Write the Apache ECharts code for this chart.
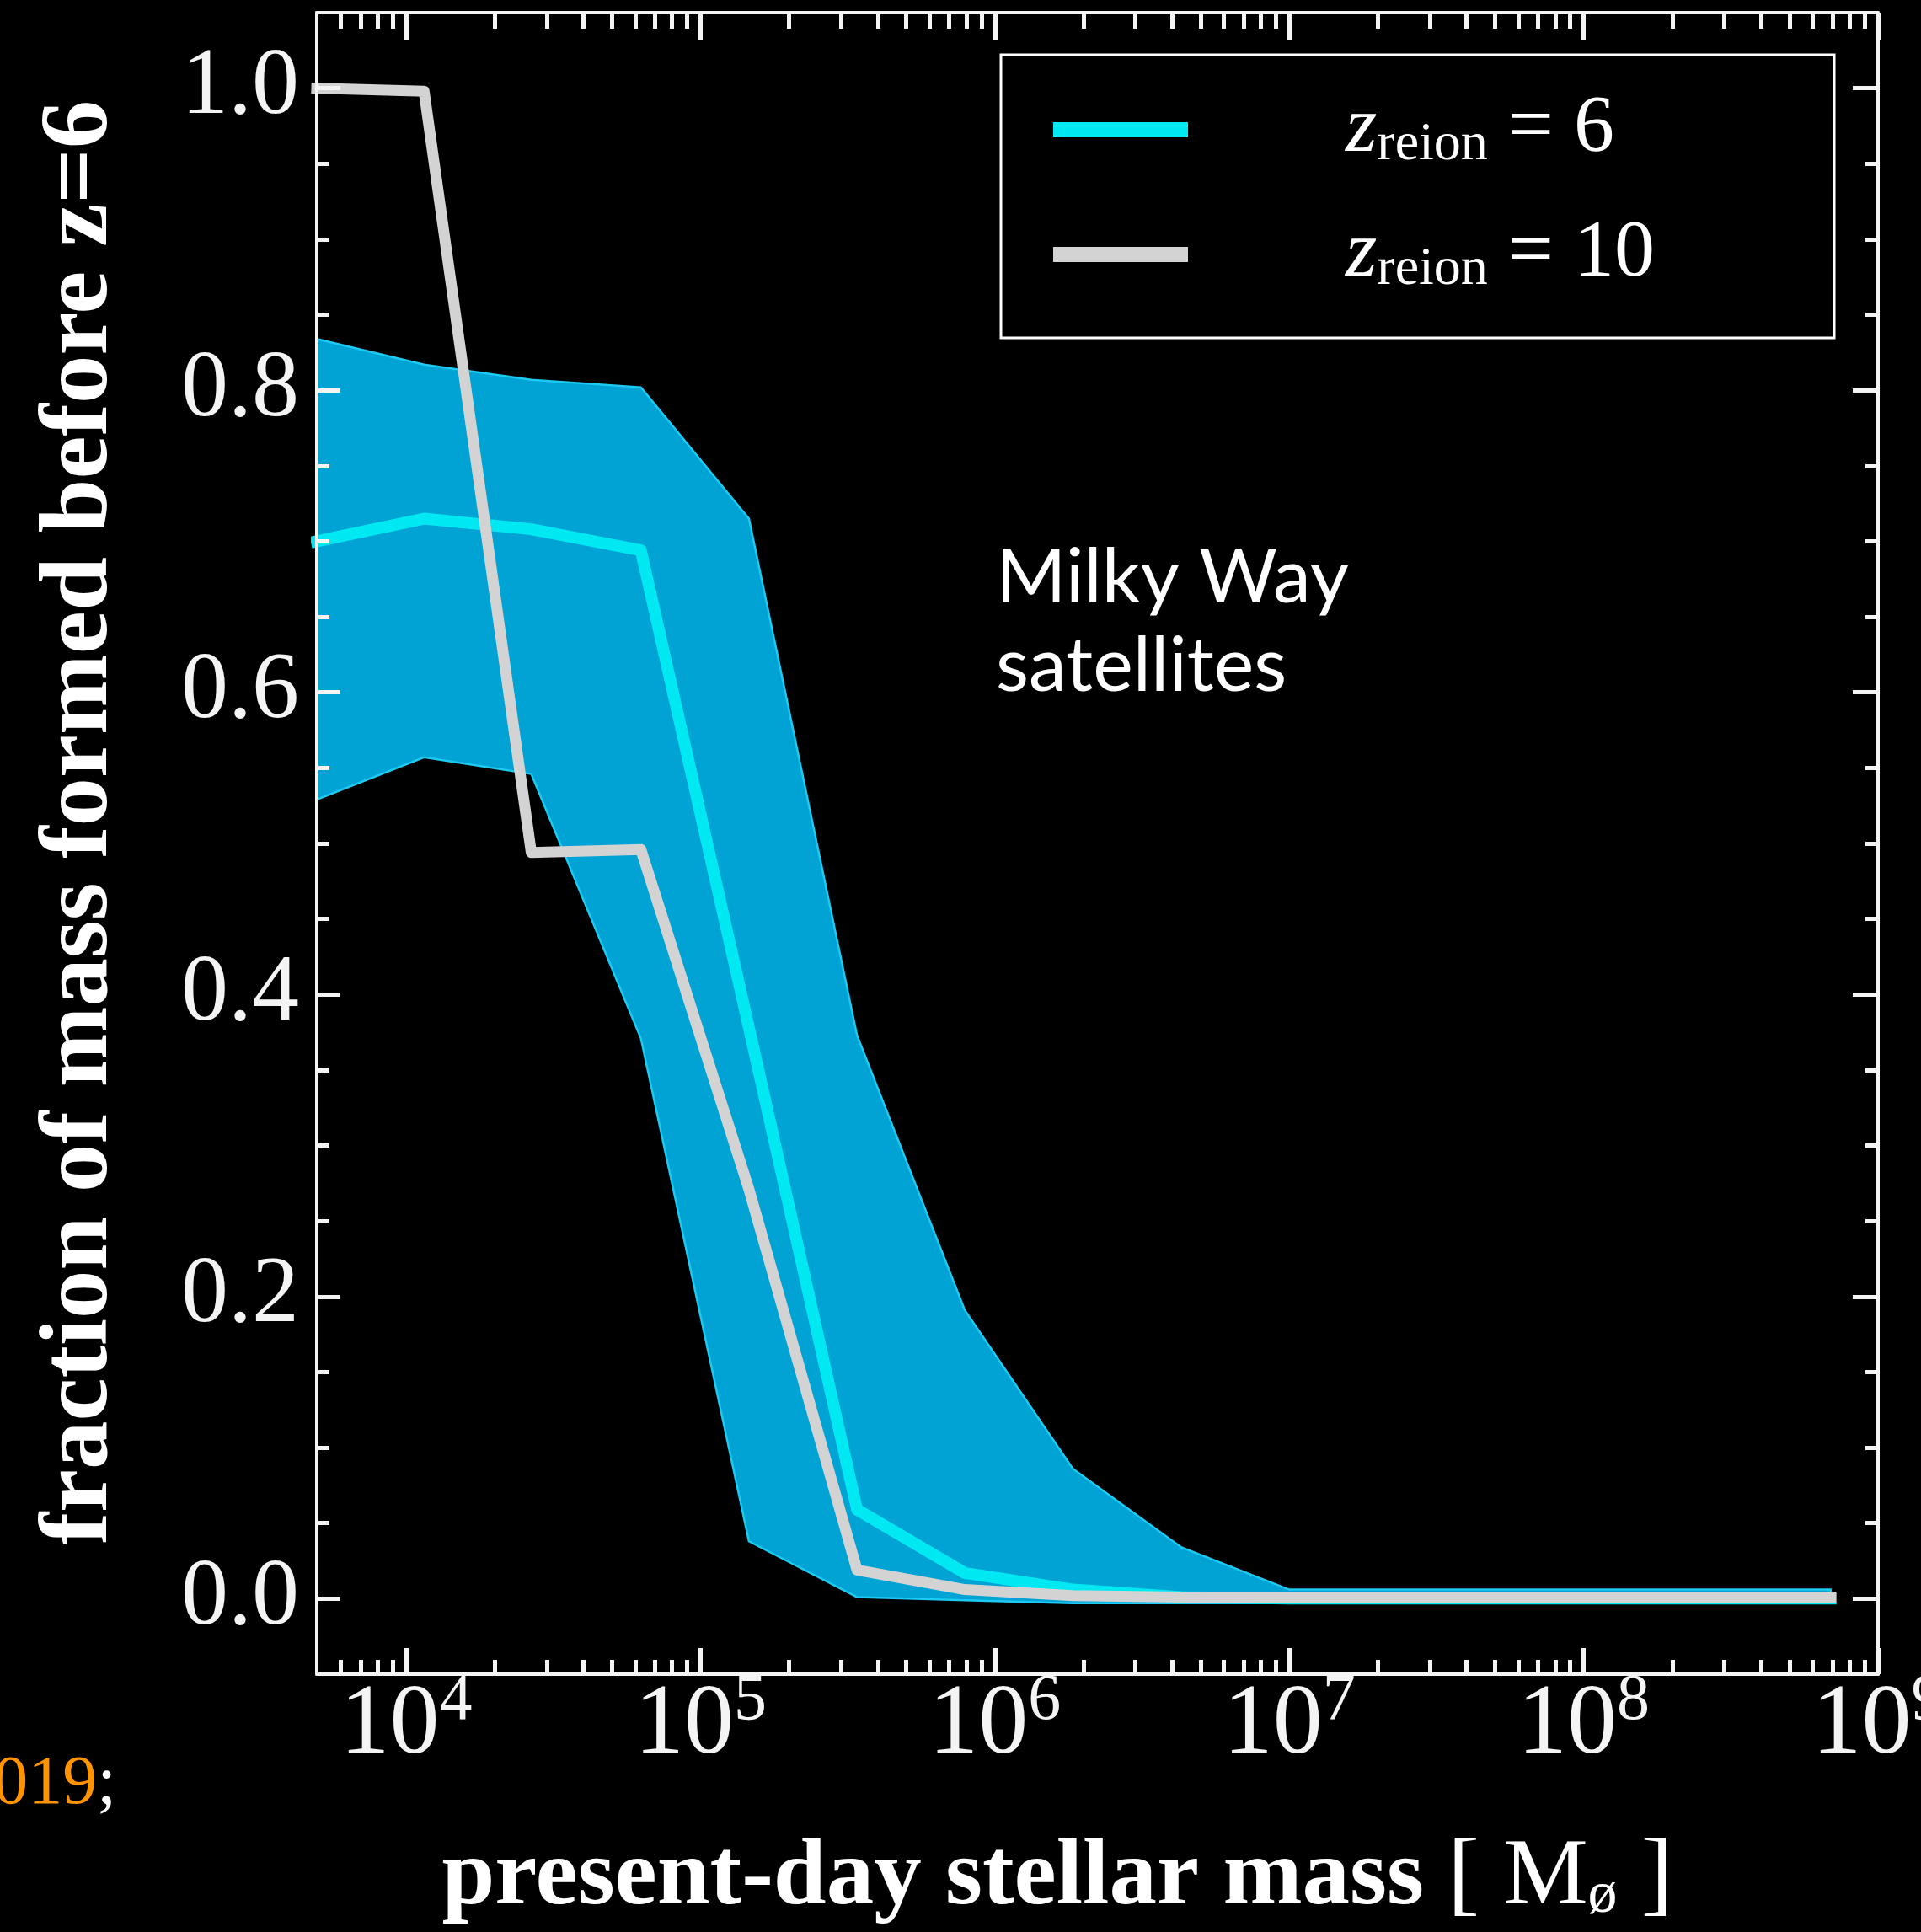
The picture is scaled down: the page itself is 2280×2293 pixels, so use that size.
<!DOCTYPE html>
<html><head><meta charset="utf-8">
<script src="https://cdn.jsdelivr.net/npm/echarts@6/dist/echarts.min.js"></script>
<style>html,body{margin:0;padding:0;background:#000}#c{width:2280px;height:2293px}</style>
</head><body><div id="c"></div>
<script>
// present-day stellar mass [Msun] of each bin
const mass = [4970, 11500, 26600, 62700, 146000, 340000, 790000, 1840000, 4300000, 10000000, 23300000, 54300000, 127000000, 295000000, 690000000];
// z_reion = 6 : median and spread
const medianZ6 = [0.700, 0.715, 0.708, 0.694, 0.378, 0.059, 0.017, 0.006, 0.001, 0, 0, 0, 0, 0, 0];
const lowerZ6  = [0.529, 0.557, 0.546, 0.371, 0.038, 0.001, -0.001, -0.003, -0.003, -0.003, -0.003, -0.003, -0.003, -0.003, -0.003];
const upperZ6  = [0.834, 0.817, 0.807, 0.802, 0.715, 0.373, 0.191, 0.086, 0.034, 0.006, 0.006, 0.006, 0.006, 0.006, 0.006];
// z_reion = 10 : median
const medianZ10 = [1.000, 0.998, 0.494, 0.496, 0.271, 0.019, 0.006, 0.002, 0.001, 0.001, 0.001, 0.001, 0.001, 0.001, 0.001];

const xMin = 4970, xMax = 1e9;
const majorX = [1e4, 1e5, 1e6, 1e7, 1e8, 1e9];
const minorX = [6000, 7000, 8000, 9000];
for (let e = 4; e <= 8; e++) for (let k = 2; k <= 9; k++) minorX.push(k * Math.pow(10, e));
const majorY = [0, 0.2, 0.4, 0.6, 0.8, 1.0];
const minorY = [0.05, 0.1, 0.15, 0.25, 0.3, 0.35, 0.45, 0.5, 0.55, 0.65, 0.7, 0.75, 0.85, 0.9, 0.95];

const names = ['zreion = 6', 'zreion = 10'];
const FONT = 'Liberation Serif';
const WHITE = '#f4f4f4';

const med6 = mass.map((m, i) => [m, medianZ6[i]]);
const med10 = mass.map((m, i) => [m, medianZ10[i]]);
const band = mass.map((m, i) => [m, lowerZ6[i], upperZ6[i]]);

function xAx(pos, vals, len, main) {
  return {
    type: 'log', logBase: 10, min: xMin, max: xMax, position: pos, z: 10,
    axisLine: {show: main, onZero: false, lineStyle: {color: WHITE, width: 4}},
    axisTick: {show: true, inside: true, length: len, customValues: vals, lineStyle: {color: WHITE, width: 5}},
    axisLabel: (main && pos === 'bottom') ? {
      show: true, customValues: majorX, margin: -6,
      formatter: v => '{b|10}{s|' + Math.round(Math.log10(v)) + '}',
      rich: {
        b: {fontFamily: FONT, fontSize: 118, lineHeight: 136, color: WHITE},
        s: {fontFamily: FONT, fontSize: 78, lineHeight: 62, verticalAlign: 'top', color: WHITE}
      }
    } : {show: false},
    splitLine: {show: false}, minorTick: {show: false}, minorSplitLine: {show: false}
  };
}
function yAx(pos, vals, len, main) {
  return {
    type: 'value', min: -0.05, max: 1.05, position: pos, z: 10,
    axisLine: {show: main, onZero: false, lineStyle: {color: WHITE, width: 4}},
    axisTick: {show: true, inside: true, length: len, customValues: vals, lineStyle: {color: WHITE, width: 5}},
    axisLabel: (main && pos === 'left') ? {
      show: true, customValues: majorY, margin: 21,
      formatter: v => v.toFixed(1),
      fontFamily: FONT, fontSize: 112, color: WHITE, padding: [0, 0, 16, 0]
    } : {show: false},
    splitLine: {show: false}, minorTick: {show: false}, minorSplitLine: {show: false}
  };
}

const xAxes = [xAx('bottom', majorX, 31, true), xAx('bottom', minorX, 17, false), xAx('top', majorX, 33, true), xAx('top', minorX, 19, false)];
xAxes[0].name = '{t|present-day stellar mass }{m|[ M}{s|ø}{m| ]}';
xAxes[0].nameLocation = 'middle';
xAxes[0].nameGap = 186;
xAxes[0].nameTextStyle = {
  padding: [0, 95, 0, 0],
  rich: {
    t: {fontFamily: FONT, fontWeight: 'bold', fontSize: 113, lineHeight: 113, color: '#fff'},
    m: {fontFamily: FONT, fontSize: 113, lineHeight: 113, color: '#fff'},
    s: {fontFamily: FONT, fontSize: 70, lineHeight: 60, verticalAlign: 'bottom', color: '#fff'}
  }
};
const yAxes = [yAx('left', majorY, 28, true), yAx('left', minorY, 15, false), yAx('right', majorY, 30, true), yAx('right', minorY, 15, false)];
yAxes[0].name = 'fraction of mass formed before z=6';
yAxes[0].nameLocation = 'middle';
yAxes[0].nameGap = 222;
yAxes[0].nameTextStyle = {fontFamily: FONT, fontWeight: 'bold', fontSize: 115, lineHeight: 115, color: '#fff', padding: [0, 0, 0, 50]};

const chart = echarts.init(document.getElementById('c'), null, {renderer: 'canvas'});
chart.setOption({
  animation: false,
  backgroundColor: '#000',
  textStyle: {fontFamily: FONT},
  grid: {left: 376, right: 51, top: 15, bottom: 306, containLabel: false, outerBoundsMode: 'none'},
  xAxis: xAxes,
  yAxis: yAxes,
  legend: {
    left: 1188, top: 65, orient: 'vertical', z: 12,
    data: [{name: names[0], icon: 'rect'}, {name: names[1], icon: 'rect'}],
    itemWidth: 160, itemHeight: 18, itemGap: 50,
    padding: [41, 213, 49, 62],
    borderColor: '#fff', borderWidth: 3, backgroundColor: '#000',
    selectedMode: false,
    itemStyle: {borderWidth: 0},
    formatter: n => '{z|z}{s|reion}{e| = ' + n.split('= ')[1] + '}',
    textStyle: {
      color: '#fff', padding: [0, 0, 0, 182],
      rich: {
        z: {fontFamily: FONT, fontStyle: 'italic', fontSize: 96, lineHeight: 100, color: '#fff'},
        s: {fontFamily: FONT, fontSize: 64, lineHeight: 44, verticalAlign: 'bottom', color: '#fff'},
        e: {fontFamily: FONT, fontSize: 96, lineHeight: 100, color: '#fff'}
      }
    }
  },
  graphic: [
    {type: 'text', left: 1182, top: 633, silent: true, z: 20,
     style: {text: 'Milky Way\nsatellites', fill: '#fff', font: '90px Lato', lineHeight: 105}},
    {type: 'text', x: 138, y: 2118, silent: true, z: 20,
     style: {text: '{o|2019}{w|;}', align: 'right', verticalAlign: 'middle',
       rich: {o: {fill: '#ff9400', fontSize: 82, fontFamily: FONT}, w: {fill: '#fff', fontSize: 82, fontFamily: FONT}}}}
  ],
  series: [
    {name: 'band', type: 'custom', data: band, encode: {x: 0, y: [1, 2]}, z: 2, silent: true,
     renderItem: function (params, api) {
       if (params.dataIndex !== 0) return null;
       const up = band.map(d => api.coord([d[0], d[2]]));
       const lo = band.map(d => api.coord([d[0], d[1]])).reverse();
       return {type: 'polygon', shape: {points: up.concat(lo)},
               style: {fill: '#00a3d4', stroke: '#1ccaf2', lineWidth: 2.5, lineJoin: 'miter'}};
     }},
    {name: names[0], type: 'line', data: med6, symbol: 'none', itemStyle: {color: '#00e9f2'},
     lineStyle: {color: '#00e9f2', width: 14, join: 'round', cap: 'square'}, z: 4, emphasis: {disabled: true}},
    {name: names[1], type: 'line', data: med10, symbol: 'none', itemStyle: {color: '#d3d3d3'},
     lineStyle: {color: '#d3d3d3', width: 13, join: 'round', cap: 'square'}, z: 5, emphasis: {disabled: true}}
  ]
});
</script>
</body></html>
